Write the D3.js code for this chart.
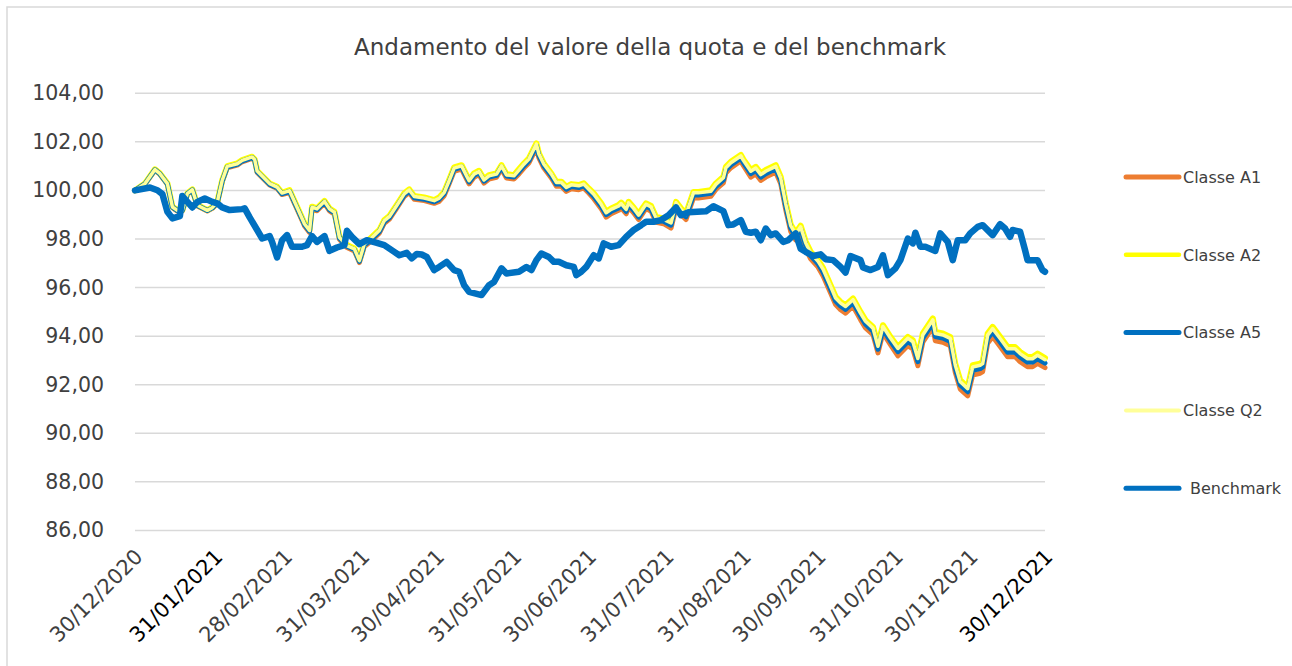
<!DOCTYPE html>
<html>
<head>
<meta charset="utf-8">
<script src="https://cdn.jsdelivr.net/npm/d3@7"></script>
<style>
  html, body { margin: 0; padding: 0; background: #fff; }
  svg { display: block; font-family: "DejaVu Sans", sans-serif; }
</style>
</head>
<body>
<div id="chart"></div>
<script>
// Fund classes share the same sampled dates
const fundDates = [
  "2020-12-30","2021-01-03","2021-01-07","2021-01-09","2021-01-12","2021-01-14","2021-01-16","2021-01-18","2021-01-20","2021-01-22","2021-01-24","2021-01-28","2021-01-30",
  "2021-02-01","2021-02-03","2021-02-05","2021-02-09","2021-02-11","2021-02-15","2021-02-16","2021-02-17","2021-02-22","2021-02-25","2021-02-27",
  "2021-03-02","2021-03-05","2021-03-08","2021-03-10","2021-03-11","2021-03-13","2021-03-16","2021-03-18","2021-03-20","2021-03-22","2021-03-25","2021-03-28","2021-03-30",
  "2021-04-01","2021-04-03","2021-04-07","2021-04-09","2021-04-11","2021-04-14","2021-04-17","2021-04-19","2021-04-21","2021-04-25","2021-04-29",
  "2021-05-01","2021-05-03","2021-05-05","2021-05-07","2021-05-10","2021-05-12","2021-05-13","2021-05-15","2021-05-17","2021-05-19","2021-05-21","2021-05-24","2021-05-26","2021-05-28","2021-05-31",
  "2021-06-02","2021-06-04","2021-06-06","2021-06-07","2021-06-09","2021-06-10","2021-06-12","2021-06-15","2021-06-17","2021-06-19","2021-06-21","2021-06-23","2021-06-26","2021-06-28","2021-06-30",
  "2021-07-02","2021-07-05","2021-07-07","2021-07-09","2021-07-12","2021-07-13","2021-07-15","2021-07-16","2021-07-18","2021-07-20","2021-07-22","2021-07-23","2021-07-25","2021-07-27","2021-07-30",
  "2021-08-02","2021-08-04","2021-08-06","2021-08-08","2021-08-11","2021-08-13","2021-08-18","2021-08-20","2021-08-23","2021-08-24","2021-08-26","2021-08-30","2021-08-31",
  "2021-09-03","2021-09-05","2021-09-07","2021-09-09","2021-09-13","2021-09-15","2021-09-17","2021-09-19","2021-09-21","2021-09-23","2021-09-25","2021-09-27","2021-09-30",
  "2021-10-02","2021-10-05","2021-10-07","2021-10-09","2021-10-11","2021-10-14","2021-10-17","2021-10-19","2021-10-22","2021-10-24","2021-10-26","2021-10-29",
  "2021-11-01","2021-11-05","2021-11-07","2021-11-09","2021-11-11","2021-11-15","2021-11-16","2021-11-19","2021-11-22","2021-11-24","2021-11-26","2021-11-29",
  "2021-12-01","2021-12-04","2021-12-05","2021-12-07","2021-12-09","2021-12-12","2021-12-15","2021-12-18","2021-12-20","2021-12-23","2021-12-25","2021-12-27","2021-12-30"
];

const classeA1 = [
  100.00,100.25,100.83,100.66,100.25,99.29,99.15,99.15,99.84,100.00,99.36,99.15,99.26,
  99.46,100.36,100.93,101.04,101.18,101.32,101.21,100.74,100.22,100.08,99.83,
  99.91,99.23,98.54,98.27,99.23,99.16,99.47,99.16,99.02,97.99,97.65,97.51,97.03,
  97.69,97.85,98.24,98.65,98.81,99.27,99.75,99.91,99.64,99.58,99.47,
  99.55,99.78,100.27,100.79,100.88,100.47,100.27,100.54,100.65,100.30,100.47,100.54,100.88,100.51,100.47,
  100.68,100.92,101.13,101.34,101.75,101.34,100.92,100.51,100.17,100.17,99.96,100.07,100.03,100.10,99.89,
  99.66,99.25,98.90,99.04,99.18,99.28,99.04,99.31,99.08,98.80,99.11,99.25,99.14,98.69,98.63,
  98.45,99.28,99.01,98.80,99.69,99.69,99.76,100.04,100.31,100.72,100.93,101.21,101.03,
  100.55,100.68,100.41,100.55,100.75,100.27,99.21,98.31,97.96,98.26,97.61,97.18,96.84,
  96.48,95.78,95.30,95.09,94.95,95.23,94.68,94.34,94.06,93.31,94.13,93.65,
  93.19,93.61,93.47,92.78,93.75,94.37,93.81,93.75,93.61,92.51,91.82,91.54,
  92.40,92.47,92.54,93.71,93.98,93.57,93.15,93.15,92.95,92.74,92.74,92.88,92.70
];

const classeA2 = [
  100.00,100.29,100.87,100.70,100.29,99.33,99.19,99.19,99.88,100.04,99.40,99.19,99.30,
  99.53,100.43,101.00,101.11,101.25,101.39,101.28,100.81,100.29,100.15,99.90,
  100.01,99.33,98.64,98.37,99.33,99.26,99.57,99.26,99.12,98.09,97.75,97.61,97.13,
  97.82,97.98,98.37,98.78,98.94,99.40,99.88,100.04,99.77,99.71,99.60,
  99.71,99.94,100.43,100.95,101.04,100.63,100.43,100.70,100.81,100.46,100.63,100.70,101.04,100.67,100.63,
  100.87,101.11,101.32,101.53,101.94,101.53,101.11,100.70,100.36,100.36,100.15,100.26,100.22,100.29,100.08,
  99.88,99.47,99.12,99.26,99.40,99.50,99.26,99.53,99.30,99.02,99.33,99.47,99.36,98.91,98.85,
  98.70,99.53,99.26,99.05,99.94,99.94,100.01,100.29,100.56,100.97,101.18,101.46,101.28,
  100.84,100.97,100.70,100.84,101.04,100.56,99.50,98.60,98.25,98.55,97.90,97.47,97.13,
  96.80,96.10,95.62,95.41,95.27,95.55,95.00,94.66,94.38,93.63,94.45,93.97,
  93.55,93.97,93.83,93.14,94.11,94.73,94.17,94.11,93.97,92.87,92.18,91.90,
  92.80,92.87,92.94,94.11,94.38,93.97,93.55,93.55,93.35,93.14,93.14,93.28,93.10
];

const classeA5 = [
  100.00,100.27,100.85,100.68,100.27,99.31,99.17,99.17,99.86,100.02,99.38,99.17,99.28,
  99.49,100.39,100.96,101.07,101.21,101.35,101.24,100.77,100.25,100.11,99.86,
  99.96,99.28,98.59,98.32,99.28,99.21,99.52,99.21,99.07,98.04,97.70,97.56,97.08,
  97.75,97.91,98.30,98.71,98.87,99.33,99.81,99.97,99.70,99.64,99.53,
  99.63,99.86,100.35,100.87,100.96,100.55,100.35,100.62,100.73,100.38,100.55,100.62,100.96,100.59,100.55,
  100.77,101.01,101.22,101.43,101.84,101.43,101.01,100.60,100.26,100.26,100.05,100.16,100.12,100.19,99.98,
  99.76,99.35,99.00,99.14,99.28,99.38,99.14,99.41,99.18,98.90,99.21,99.35,99.24,98.79,98.73,
  98.57,99.40,99.13,98.92,99.81,99.81,99.88,100.16,100.43,100.84,101.05,101.33,101.15,
  100.69,100.82,100.55,100.69,100.89,100.41,99.35,98.45,98.10,98.40,97.75,97.32,96.98,
  96.63,95.93,95.45,95.24,95.10,95.38,94.83,94.49,94.21,93.46,94.28,93.80,
  93.36,93.78,93.64,92.95,93.92,94.54,93.98,93.92,93.78,92.68,91.99,91.71,
  92.59,92.66,92.73,93.90,94.17,93.76,93.34,93.34,93.14,92.93,92.93,93.07,92.89
];

const classeQ2 = [
  100.00,100.28,100.86,100.69,100.28,99.32,99.18,99.18,99.87,100.03,99.39,99.18,99.29,
  99.52,100.42,100.99,101.10,101.24,101.38,101.27,100.80,100.28,100.14,99.89,
  99.99,99.31,98.62,98.35,99.31,99.24,99.55,99.24,99.10,98.07,97.73,97.59,97.11,
  97.80,97.96,98.35,98.76,98.92,99.38,99.86,100.02,99.75,99.69,99.58,
  99.68,99.91,100.40,100.92,101.01,100.60,100.40,100.67,100.78,100.43,100.60,100.67,101.01,100.64,100.60,
  100.84,101.08,101.29,101.50,101.91,101.50,101.08,100.67,100.33,100.33,100.12,100.23,100.19,100.26,100.05,
  99.84,99.43,99.08,99.22,99.36,99.46,99.22,99.49,99.26,98.98,99.29,99.43,99.32,98.87,98.81,
  98.66,99.49,99.22,99.01,99.90,99.90,99.97,100.25,100.52,100.93,101.14,101.42,101.24,
  100.79,100.92,100.65,100.79,100.99,100.51,99.45,98.55,98.20,98.50,97.85,97.42,97.08,
  96.75,96.05,95.57,95.36,95.22,95.50,94.95,94.61,94.33,93.58,94.40,93.92,
  93.49,93.91,93.77,93.08,94.05,94.67,94.11,94.05,93.91,92.81,92.12,91.84,
  92.73,92.80,92.87,94.04,94.31,93.90,93.48,93.48,93.28,93.07,93.07,93.21,93.03
];

const benchDates = [
  "2020-12-30","2021-01-05","2021-01-08","2021-01-10","2021-01-12","2021-01-14","2021-01-17","2021-01-18","2021-01-20","2021-01-22","2021-01-24","2021-01-27","2021-01-30",
  "2021-02-01","2021-02-03","2021-02-06","2021-02-11","2021-02-12","2021-02-14","2021-02-17","2021-02-19","2021-02-22","2021-02-23","2021-02-25","2021-02-27",
  "2021-03-01","2021-03-03","2021-03-07","2021-03-09","2021-03-11","2021-03-13","2021-03-16","2021-03-18","2021-03-21","2021-03-24","2021-03-25","2021-03-27","2021-03-30",
  "2021-04-02","2021-04-06","2021-04-09","2021-04-13","2021-04-15","2021-04-18","2021-04-20","2021-04-22","2021-04-24","2021-04-26","2021-04-29",
  "2021-05-01","2021-05-04","2021-05-07","2021-05-09","2021-05-11","2021-05-13","2021-05-18","2021-05-21","2021-05-23","2021-05-26","2021-05-28",
  "2021-06-02","2021-06-05","2021-06-07","2021-06-09","2021-06-11","2021-06-14","2021-06-16","2021-06-18","2021-06-21","2021-06-24","2021-06-25","2021-06-27","2021-06-29",
  "2021-07-02","2021-07-04","2021-07-06","2021-07-09","2021-07-12","2021-07-15","2021-07-18","2021-07-21","2021-07-23","2021-07-26","2021-07-29",
  "2021-08-01","2021-08-04","2021-08-06","2021-08-09","2021-08-16","2021-08-19","2021-08-23","2021-08-25","2021-08-27","2021-08-30",
  "2021-09-01","2021-09-03","2021-09-05","2021-09-07","2021-09-09","2021-09-11","2021-09-13","2021-09-16","2021-09-18","2021-09-21","2021-09-23","2021-09-25","2021-09-28",
  "2021-10-01","2021-10-03","2021-10-06","2021-10-09","2021-10-11","2021-10-13","2021-10-17","2021-10-18","2021-10-21","2021-10-24","2021-10-26","2021-10-28","2021-10-31",
  "2021-11-02","2021-11-05","2021-11-07","2021-11-08","2021-11-10","2021-11-12","2021-11-16","2021-11-18","2021-11-21","2021-11-23","2021-11-25","2021-11-28","2021-11-30",
  "2021-12-03","2021-12-05","2021-12-09","2021-12-12","2021-12-14","2021-12-16","2021-12-17","2021-12-20","2021-12-22","2021-12-23","2021-12-27","2021-12-29","2021-12-30"
];

const benchmark = [
  100.00,100.12,100.01,99.85,99.12,98.85,98.94,99.77,99.53,99.30,99.53,99.67,99.53,
  99.47,99.30,99.19,99.23,99.26,98.89,98.37,98.02,98.12,97.88,97.24,97.95,
  98.16,97.68,97.68,97.75,98.12,97.88,98.12,97.51,97.65,97.75,98.34,98.09,97.79,
  97.95,97.84,97.75,97.47,97.33,97.43,97.20,97.38,97.36,97.26,96.72,
  96.85,97.06,96.72,96.65,96.10,95.82,95.69,96.10,96.23,96.79,96.58,
  96.65,96.85,96.72,97.13,97.40,97.26,97.06,97.06,96.92,96.85,96.51,96.65,96.85,
  97.33,97.20,97.82,97.68,97.75,98.09,98.37,98.57,98.71,98.71,98.78,
  98.98,99.30,98.98,99.10,99.14,99.35,99.15,98.57,98.60,98.78,
  98.30,98.26,98.30,97.95,98.43,98.16,98.23,97.88,97.95,98.23,97.60,97.47,97.30,
  97.37,97.17,97.13,96.85,96.62,97.30,97.13,96.83,96.72,96.85,97.33,96.51,96.79,
  97.13,98.02,97.82,98.26,97.68,97.68,97.51,98.23,97.88,97.13,97.95,97.95,98.23,
  98.50,98.57,98.16,98.61,98.43,98.09,98.37,98.30,97.54,97.13,97.13,96.72,96.65
];

const yTicks = [86, 88, 90, 92, 94, 96, 98, 100, 102, 104];
const xTickLabels = ["30/12/2020","31/01/2021","28/02/2021","31/03/2021","30/04/2021","31/05/2021",
  "30/06/2021","31/07/2021","31/08/2021","30/09/2021","31/10/2021","30/11/2021","30/12/2021"];
const darkLabels = ["31/01/2021", "30/12/2021"];

const title = "Andamento del valore della quota e del benchmark";

const W = 1292, H = 666;
const plot = { left: 135, right: 1045, top: 93.3, bottom: 530.4 };

const parseIso = d3.timeParse("%Y-%m-%d");
const parseLabel = d3.timeParse("%d/%m/%Y");
const fmtLabel = d3.timeFormat("%d/%m/%Y");
const fmt = d3.format(".2f");

// series in drawing order (as the legend lists them)
const series = [
  { name: "Classe A1", dates: fundDates, values: classeA1, color: "#ED7D31", width: 5, legendWidth: 5 },
  { name: "Classe A2", dates: fundDates, values: classeA2, color: "#FFFF00", width: 6, legendWidth: 4.5 },
  { name: "Classe A5", dates: fundDates, values: classeA5, color: "#0070C0", width: 5, legendWidth: 5 },
  { name: "Classe Q2", dates: fundDates, values: classeQ2, color: "#FFFF99", width: 3.5, legendWidth: 4 },
  { name: "Benchmark", dates: benchDates, values: benchmark, color: "#0070C0", width: 6.5, legendWidth: 5 }
];

const x = d3.scaleTime()
  .domain([parseLabel("30/12/2020"), parseLabel("30/12/2021")])
  .range([plot.left, plot.right]);

const y = d3.scaleLinear()
  .domain([86, 104])
  .range([plot.bottom, plot.top]);

const svg = d3.select("#chart").append("svg")
  .attr("width", W)
  .attr("height", H);

svg.append("rect").attr("width", W).attr("height", H).attr("fill", "#fff");

// chart area border (only left and top edges are in frame)
svg.append("rect")
  .attr("x", 7).attr("y", 7)
  .attr("width", 1320).attr("height", 720)
  .attr("fill", "none")
  .attr("stroke", "#d9d9d9")
  .attr("stroke-width", 1.5);

svg.append("text")
  .attr("x", 650)
  .attr("y", 55)
  .attr("text-anchor", "middle")
  .attr("font-size", 23)
  .attr("fill", "#404040")
  .text(title);

// horizontal gridlines
svg.append("g")
  .selectAll("line")
  .data(yTicks)
  .join("line")
  .attr("x1", plot.left)
  .attr("x2", plot.right)
  .attr("y1", d => y(d))
  .attr("y2", d => y(d))
  .attr("stroke", "#d9d9d9")
  .attr("stroke-width", 1.5);

// y axis labels
const yAxis = d3.axisLeft(y)
  .tickValues(yTicks)
  .tickSize(0)
  .tickPadding(0)
  .tickFormat(d => fmt(d).replace(".", ","));

svg.append("g")
  .attr("transform", "translate(104,0)")
  .call(yAxis)
  .call(g => g.select(".domain").remove())
  .selectAll("text")
  .attr("font-family", "DejaVu Sans, sans-serif")
  .attr("font-size", 20.5)
  .attr("fill", "#404040");

// x axis labels, rotated -45
const xAxis = d3.axisBottom(x)
  .tickValues(xTickLabels.map(parseLabel))
  .tickSize(0)
  .tickPadding(0)
  .tickFormat(fmtLabel);

svg.append("g")
  .attr("transform", `translate(0,${plot.bottom + 15})`)
  .call(xAxis)
  .call(g => g.select(".domain").remove())
  .selectAll("text")
  .attr("font-family", "DejaVu Sans, sans-serif")
  .attr("font-size", 21)
  .attr("fill", d => darkLabels.includes(fmtLabel(d)) ? "#000" : "#404040")
  .attr("text-anchor", "end")
  .attr("x", 0)
  .attr("y", 0)
  .attr("dy", "0.71em")
  .attr("transform", "translate(-2,2) rotate(-45)");

// lines
const line = d3.line()
  .x(d => x(d.date))
  .y(d => y(d.value));

const linesG = svg.append("g");
series.forEach(s => {
  const pts = s.dates.map((d, i) => ({ date: parseIso(d), value: s.values[i] }));
  linesG.append("path")
    .datum(pts)
    .attr("d", line)
    .attr("fill", "none")
    .attr("stroke", s.color)
    .attr("stroke-width", s.width)
    .attr("stroke-linejoin", "round")
    .attr("stroke-linecap", "round");
});

// legend
const legend = svg.append("g");
series.forEach((s, i) => {
  const ly = 177 + i * 77.8;
  legend.append("line")
    .attr("x1", 1126).attr("x2", 1179)
    .attr("y1", ly).attr("y2", ly)
    .attr("stroke", s.color)
    .attr("stroke-width", s.legendWidth)
    .attr("stroke-linecap", "round");
  legend.append("text")
    .attr("x", s.name === "Benchmark" ? 1190 : 1183)
    .attr("y", ly)
    .attr("dy", "0.36em")
    .attr("font-size", 16)
    .attr("fill", "#404040")
    .text(s.name);
});
</script>
</body>
</html>
